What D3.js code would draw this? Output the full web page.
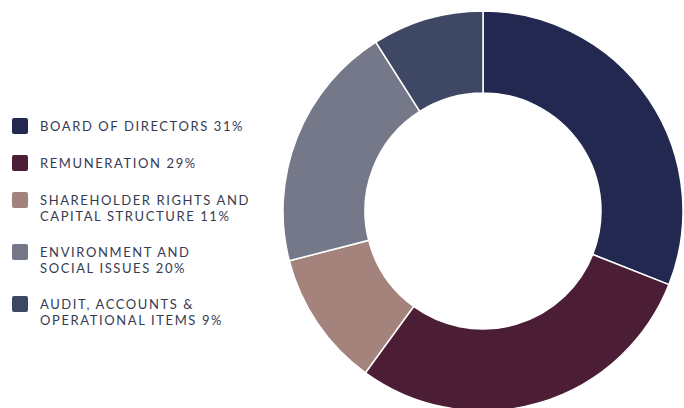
<!DOCTYPE html>
<html>
<head>
<meta charset="utf-8">
<script src="https://cdn.jsdelivr.net/npm/d3@7"></script>
<style>
  html, body { margin: 0; padding: 0; background: #ffffff; }
  svg { display: block; }
  .legend text { font-family: Lato, "Open Sans", sans-serif; font-size: 13px; fill: #363a52; letter-spacing: 1.6px; }
</style>
</head>
<body>
<div id="chart"></div>
<script>
// categories, shares and colours
const categories = [
  ["BOARD OF DIRECTORS 31%"],
  ["REMUNERATION 29%"],
  ["SHAREHOLDER RIGHTS AND", "CAPITAL STRUCTURE 11%"],
  ["ENVIRONMENT AND", "SOCIAL ISSUES 20%"],
  ["AUDIT, ACCOUNTS &", "OPERATIONAL ITEMS 9%"]
];
const values = [31, 29, 11, 20, 9];
const colors = ["#232850", "#4b1e35", "#a3837c", "#747889", "#3e4764"];

const width = 684, height = 408;

const svg = d3.select("#chart").append("svg")
    .attr("width", width)
    .attr("height", height);

// donut
const pie = d3.pie().sort(null).value(d => d);
const arc = d3.arc().innerRadius(118).outerRadius(200);

const g = svg.append("g")
    .attr("transform", "translate(483,211)");

g.selectAll("path")
    .data(pie(values))
    .enter().append("path")
    .attr("d", arc)
    .attr("fill", (d, i) => colors[i])
    .attr("stroke", "#ffffff")
    .attr("stroke-width", 1.5);

// legend
const legend = svg.append("g").attr("class", "legend");
let y = 118;
categories.forEach((lines, i) => {
    const item = legend.append("g").attr("transform", `translate(12,${y})`);
    item.append("rect")
        .attr("width", 16)
        .attr("height", 16)
        .attr("rx", 2)
        .attr("fill", colors[i]);
    const text = item.append("text").attr("x", 28).attr("y", 13);
    lines.forEach((line, j) => {
        text.append("tspan")
            .attr("x", 28)
            .attr("dy", j === 0 ? 0 : 15.5)
            .text(line);
    });
    y += 37 + (lines.length - 1) * 15;
});
</script>
</body>
</html>
